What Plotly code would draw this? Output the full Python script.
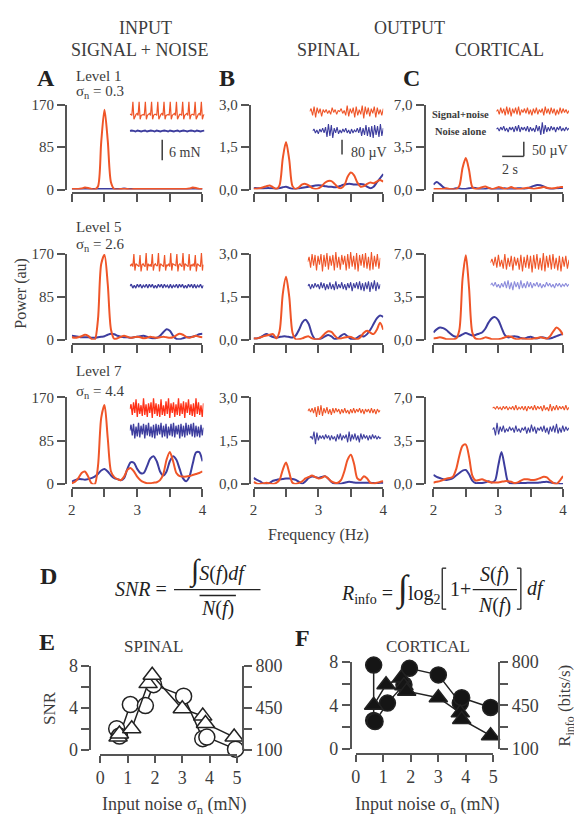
import plotly.graph_objects as go

W, H = 574, 827
FONT = "Liberation Serif, Times New Roman, DejaVu Serif, serif"
TXT = "#3c3c3c"
AXC = "#555555"
RED = "#ef5528"
RED3 = "#ff3218"
BLUE = "#3d3d9e"
BLUE_LT = "#8c8cdc"

# ---------------- power spectra (frequency grid, Hz) ----------------
freq = [2.00, 2.05, 2.10, 2.15, 2.20, 2.25, 2.30, 2.35, 2.40, 2.45, 2.50,
        2.55, 2.60, 2.65, 2.70, 2.75, 2.80, 2.85, 2.90, 2.95, 3.00,
        3.05, 3.10, 3.15, 3.20, 3.25, 3.30, 3.35, 3.40, 3.45, 3.50,
        3.55, 3.60, 3.65, 3.70, 3.75, 3.80, 3.85, 3.90, 3.95, 4.00]

# Level 1
in_l1_sn = [1, 1, 1, 2, 4, 3, 1, 0, 6, 95, 160, 98, 14, 1, 0, 1, 1, 1, 0, 1, 1,
            1, 1, 1, 1, 1, 1, 1, 1, 1, 1, 1, 1, 1, 1, 1, 2, 4, 3, 1, 1]
in_l1_n = [1, 1, 1, 1, 1, 1, 1, 1, 1, 1, 1, 1, 1, 1, 1, 1, 2, 1, 1, 1, 1,
           1, 1, 1, 1, 1, 1, 1, 1, 1, 1, 1, 1, 1, 1, 1, 1, 1, 1, 1, 1]
sp_l1_sn = [0.03, 0.03, 0.05, 0.08, 0.12, 0.14, 0.08, 0.02, 0.15, 1.1, 1.68,
            1.05, 0.12, 0.02, 0.08, 0.18, 0.2, 0.15, 0.06, 0.02, 0.04,
            0.12, 0.24, 0.3, 0.3, 0.2, 0.08, 0.05, 0.15, 0.45, 0.6,
            0.5, 0.25, 0.1, 0.12, 0.2, 0.25, 0.22, 0.28, 0.34, 0.28]
sp_l1_n = [0.05, 0.05, 0.04, 0.04, 0.05, 0.05, 0.04, 0.03, 0.05, 0.08, 0.1,
           0.06, 0.02, 0.02, 0.04, 0.06, 0.08, 0.1, 0.12, 0.14, 0.15,
           0.14, 0.12, 0.1, 0.1, 0.08, 0.1, 0.14, 0.18, 0.2, 0.2,
           0.18, 0.18, 0.2, 0.18, 0.1, 0.05, 0.1, 0.25, 0.4, 0.55]
co_l1_sn = [0.05, 0.05, 0.05, 0.05, 0.1, 0.05, 0.02, 0.02, 0.3, 1.8, 2.6,
            1.6, 0.2, 0.05, 0.1, 0.2, 0.25, 0.15, 0.05, 0.1, 0.2,
            0.15, 0.05, 0.1, 0.2, 0.1, 0.05, 0.05, 0.1, 0.15, 0.1,
            0.05, 0.1, 0.15, 0.2, 0.15, 0.1, 0.1, 0.15, 0.2, 0.2]
co_l1_n = [0.4, 0.62, 0.45, 0.2, 0.05, 0.02, 0.05, 0.1, 0.08, 0.05, 0.05,
           0.1, 0.15, 0.12, 0.05, 0.02, 0.05, 0.1, 0.05, 0.02, 0.02,
           0.05, 0.1, 0.05, 0.02, 0.05, 0.1, 0.1, 0.05, 0.1, 0.2,
           0.3, 0.38, 0.35, 0.25, 0.12, 0.05, 0.05, 0.1, 0.12, 0.15]

# Level 5
in_l5_sn = [5, 4, 5, 7, 10, 8, 2, 0, 40, 150, 168, 110, 20, 2, 3, 6, 8, 6, 4, 5, 6,
            5, 3, 4, 6, 5, 4, 5, 6, 5, 4, 5, 9, 12, 10, 6, 4, 6, 8, 6, 5]
in_l5_n = [8, 7, 6, 5, 5, 5, 4, 4, 5, 6, 7, 10, 12, 11, 8, 6, 5, 5, 4, 5, 6,
           7, 8, 6, 4, 3, 4, 8, 15, 21, 18, 8, 2, 1, 3, 5, 5, 6, 8, 11, 12]
sp_l5_sn = [0.05, 0.05, 0.08, 0.12, 0.15, 0.18, 0.2, 0.05, 0.3, 1.6, 2.2,
            1.5, 0.25, 0.02, 0.02, 0.05, 0.1, 0.12, 0.05, 0.02, 0.02,
            0.1, 0.22, 0.3, 0.28, 0.15, 0.05, 0.05, 0.08, 0.1, 0.1,
            0.05, 0.02, 0.1, 0.25, 0.32, 0.25, 0.2, 0.35, 0.6, 0.35]
sp_l5_n = [0.05, 0.05, 0.08, 0.15, 0.2, 0.15, 0.1, 0.08, 0.1, 0.12, 0.12,
           0.1, 0.08, 0.15, 0.35, 0.6, 0.7, 0.55, 0.2, 0.02, 0.02,
           0.05, 0.12, 0.17, 0.12, 0.03, 0.05, 0.15, 0.2, 0.12, 0.03,
           0.02, 0.08, 0.15, 0.12, 0.2, 0.35, 0.55, 0.75, 0.85, 0.8]
co_l5_sn = [0.1, 0.15, 0.2, 0.15, 0.05, 0.05, 0.05, 0.1, 0.8, 5.0, 6.9,
            4.2, 0.6, 0.1, 0.05, 0.1, 0.2, 0.15, 0.05, 0.05, 0.05,
            0.1, 0.2, 0.3, 0.25, 0.1, 0.05, 0.1, 0.1, 0.05, 0.05,
            0.1, 0.15, 0.2, 0.15, 0.1, 0.3, 0.7, 1.0, 0.8, 0.4]
co_l5_n = [0.6, 0.85, 1.0, 0.95, 0.8, 0.55, 0.35, 0.25, 0.3, 0.45, 0.55,
           0.45, 0.35, 0.4, 0.5, 0.6, 0.9, 1.4, 1.75, 1.85, 1.6,
           1.0, 0.4, 0.2, 0.25, 0.3, 0.25, 0.15, 0.1, 0.2, 0.25,
           0.15, 0.1, 0.2, 0.2, 0.1, 0.1, 0.2, 0.3, 0.4, 0.5]

# Level 7
in_l7_sn = [2, 5, 12, 22, 25, 15, 2, 0, 35, 130, 155, 90, 25, 14, 10, 8, 15, 28, 32, 25, 15,
            8, 4, 2, 2, 3, 4, 8, 20, 48, 63, 45, 22, 16, 15, 15, 16, 18, 20, 22, 25]
in_l7_n = [5, 8, 10, 10, 9, 10, 12, 15, 20, 27, 30, 25, 17, 12, 10, 8, 12, 30, 43, 42, 30,
           22, 22, 35, 50, 55, 45, 25, 17, 25, 45, 55, 48, 30, 12, 6, 15, 40, 62, 63, 45]
sp_l7_sn = [0.08, 0.02, 0.01, 0.03, 0.05, 0.03, 0.01, 0.05, 0.15, 0.5, 0.75,
            0.4, 0.05, 0.01, 0.05, 0.1, 0.2, 0.25, 0.3, 0.25, 0.2,
            0.22, 0.28, 0.2, 0.1, 0.05, 0.05, 0.15, 0.45, 0.85, 1.02,
            0.7, 0.2, 0.15, 0.28, 0.2, 0.05, 0.03, 0.05, 0.08, 0.1]
sp_l7_n = [0.22, 0.15, 0.1, 0.03, 0.01, 0.05, 0.12, 0.15, 0.17, 0.18, 0.2,
           0.2, 0.18, 0.15, 0.08, 0.02, 0.1, 0.22, 0.27, 0.25, 0.22,
           0.25, 0.28, 0.2, 0.08, 0.02, 0.01, 0.02, 0.05, 0.08, 0.08,
           0.06, 0.05, 0.05, 0.05, 0.05, 0.05, 0.04, 0.04, 0.05, 0.05]
co_l7_sn = [0.12, 0.2, 0.25, 0.35, 0.45, 0.5, 0.6, 1.2, 2.3, 3.1, 3.2,
            2.2, 0.7, 0.3, 0.35, 0.4, 0.3, 0.2, 0.15, 0.15, 0.15,
            0.2, 0.25, 0.25, 0.2, 0.1, 0.15, 0.3, 0.4, 0.4, 0.35,
            0.35, 0.4, 0.5, 0.6, 0.55, 0.3, 0.1, 0.02, 0.3, 0.65]
co_l7_n = [0.75, 0.6, 0.5, 0.4, 0.35, 0.4, 0.5, 0.7, 0.9, 1.1, 1.15,
           0.8, 0.3, 0.1, 0.1, 0.1, 0.15, 0.25, 0.15, 0.3, 1.5,
           2.6, 1.4, 0.2, 0.05, 0.05, 0.08, 0.1, 0.1, 0.12, 0.12,
           0.12, 0.12, 0.15, 0.18, 0.2, 0.15, 0.1, 0.05, 0.02, 0.02]

# ---------------- raw trace insets (arbitrary amplitude units) ----------------
tr_in_l1_sn = [0, 0, -1, 13, -5, -1, 0, 1, -1, 13, -5, -1, 0, 0, -1, 13, -5, -1, 0, 1, -1, 13, -5, -1,
               0, 0, -1, 13, -5, -1, 0, 1, -1, 13, -5, -1, 0, 0, -1, 13, -5, -1, 0, 1, -1, 13, -5, -1,
               0, 0, -1, 13, -5, -1, 0, 1, -1, 13, -5, -1, 0, 0, -1, 13, -5, -1, 0, 1, -1, 13, -5, -1, 0]
tr_in_l1_n = [0, 0.5, 0, -0.5, 0.5, 0, -0.5, 0, 0.5, -0.5, 0, 0.5, 0, -0.5, 0.5, 0, -0.5, 0, 0.5, 0,
              -0.5, 0.5, 0, -0.5, 0, 0.5, -0.5, 0, 0.5, 0, -0.5, 0, 0.5, 0, -0.5, 0.5, 0, -0.5, 0, 0.5]
tr_sp_l1_sn = [0, 3, -4, 5, -6, 4, -2, 3, -5, 2, -1, 2, -2, 1, -3, 4, -1, 2, -3, 1, 0, 3, -2, 1, -4,
               6, -5, 3, -2, 4, -6, 5, -4, 2, -3, 6, -7, 5, -3, 4, -5, 3, -2, 5, -6, 4, -3, 2, -4, 3]
tr_sp_l1_n = [0, 2, -2, 1, -3, 2, -1, 3, -2, 4, -6, 7, -5, 6, -7, 3, -2, 4, -3, 1, -2, 2, -1, 3, -2,
              1, -3, 2, -2, 1, -1, 3, -2, 4, -5, 3, -4, 6, -5, 4, -6, 5, -7, 6, -4, 5, -6, 7, -5, 3]
tr_co_l1_sn = [0, 2, -3, 4, -2, 3, -4, 5, -3, 4, -5, 3, -2, 4, -3, 5, -4, 2, -1, 3, -2, 4, -3, 2, -4,
               3, -2, 4, -3, 2, -1, 3, -4, 5, -2, 3, -3, 4, -2, 3, -4, 2, -3, 4, -2, 3, -1, 2, -2, 1]
tr_co_l1_n = [0, 1, -2, 2, -1, 3, -2, 1, -3, 2, -1, 2, -3, 3, -2, 4, -3, 2, -1, 2, -2, 3, -3, 2, -2,
              1, -3, 4, -2, 3, -6, 7, -5, 4, -3, 2, -2, 3, -1, 2, -3, 2, -1, 3, -2, 1, -2, 2, -1, 1]

tr_in_l5_sn = [0, -1, 1, -2, 11, -6, 1, 0, -1, -2, 10, -7, 0, 1, -1, -2, 12, -6, 1, -1, 0, -2, 11, -6,
               0, 1, -1, -1, 12, -7, 1, 0, -1, -2, 10, -6, 0, -1, 1, -2, 12, -6, 1, 0, -1, -1, 11, -7,
               0, 1, -1, -2, 12, -6, 1, 0, -1, -2, 11, -6, 0, -1, 1, -2, 10, -7, 1, 0, -1, -2, 12, -6, 0]
tr_in_l5_n = [0, 2, -2, 1, -2, 2, -1, 2, -2, 1, -1, 2, -2, 2, -1, 2, -2, 1, -2, 2, -1, 2, -2, 2, -1,
              1, -2, 2, -2, 1, -1, 2, -2, 2, -1, 2, -2, 1, -2, 2, -1, 2, -2, 2, -2, 1, -1, 2, -2, 1]
tr_sp_l5_sn = [0, 5, -6, 8, -4, 7, -9, 6, -3, 8, -10, 7, -5, 9, -8, 6, -4, 7, -9, 10, -6, 5, -8, 7, -3,
               6, -9, 8, -7, 10, -5, 6, -8, 9, -10, 7, -4, 8, -6, 9, -7, 5, -9, 10, -8, 6, -5, 8, -7, 4]
tr_sp_l5_n = [0, 2, -3, 2, -2, 3, -1, 2, -3, 4, -2, 3, -4, 2, -3, 4, -3, 2, -4, 5, -3, 2, -2, 4, -3,
              2, -4, 3, -2, 4, -5, 3, -2, 4, -3, 5, -4, 3, -5, 4, -3, 5, -6, 4, -3, 6, -5, 4, -3, 2]
tr_co_l5_sn = [0, 4, -3, 6, -5, 8, -4, 3, -6, 9, -7, 5, -4, 7, -8, 6, -3, 5, -7, 8, -9, 6, -5, 8, -6,
               7, -10, 8, -6, 9, -7, 5, -8, 10, -9, 7, -5, 8, -7, 9, -6, 5, -8, 7, -9, 6, -4, 7, -6, 3]
tr_co_l5_n = [0, 2, -1, 3, -2, 1, -3, 2, -2, 4, -3, 5, -4, 3, -5, 4, -2, 3, -4, 5, -3, 2, -3, 4, -2,
              3, -3, 2, -1, 3, -2, 2, -3, 1, -2, 3, -1, 2, -2, 1, -3, 2, -1, 2, -2, 1, -1, 2, -1, 1]

tr_in_l7_sn = [0, 5, -6, 7, -4, 10, -8, 6, -5, 4, -7, 11, -6, 5, -8, 6, -4, 7, -9, 11, -5, 6, -7, 5, -8,
               10, -6, 4, -7, 8, -5, 11, -9, 6, -4, 7, -8, 5, -6, 11, -7, 6, -5, 8, -9, 7, -4, 10, -6, 5,
               -7, 6, -8, 11, -5, 7, -6, 4, -8, 6]
tr_in_l7_n = [0, 6, -5, 7, -8, 4, -6, 8, -7, 5, -4, 7, -8, 6, -5, 8, -6, 4, -7, 6, -8, 7, -5, 6, -4,
              8, -7, 5, -6, 7, -8, 4, -5, 7, -6, 8, -7, 5, -4, 6, -8, 7, -6, 5, -7, 8, -5, 6, -4, 7,
              -6, 8, -7, 5, -6, 4, -7, 6, -5, 3]
tr_sp_l7_sn = [0, 2, -1, 3, -2, 4, -6, 5, -4, 6, -5, 3, -2, 4, -3, 2, -4, 3, -2, 3, -1, 2, -3, 2, -2,
               3, -2, 1, -3, 2, -2, 3, -2, 2, -1, 3, -2, 2, -3, 2, -1, 2, -2, 3, -2, 2, -3, 2, -1, 1]
tr_sp_l7_n = [0, 1, -2, 6, -7, 5, -3, 2, -1, 2, -2, 3, -1, 2, -3, 2, -2, 1, -4, 3, -2, 4, -3, 2, -1,
              3, -5, 6, -4, 3, -2, 4, -3, 2, -5, 4, -2, 3, -1, 2, -3, 2, -2, 3, -1, 2, -2, 1, -1, 0]
tr_co_l7_sn = [0, 1, -1, 2, -1, 1, -2, 2, -1, 2, -2, 1, -1, 2, -2, 3, -2, 1, -1, 2, -2, 2, -3, 2, -1,
               2, -2, 3, -2, 2, -1, 2, -3, 3, -2, 1, -3, 4, -3, 2, -2, 3, -2, 2, -1, 2, -2, 3, -2, 1]
tr_co_l7_n = [0, 2, -6, 7, -5, 3, -2, 4, -3, 1, -2, 3, -1, 2, -3, 4, -2, 1, -3, 2, -1, 3, -4, 2, -3,
              5, -2, 3, -4, 2, -1, 3, -2, 4, -3, 2, -5, 3, -2, 4, -3, 6, -4, 2, -3, 4, -2, 3, -1, 2]

# ---------------- panels E / F ----------------
noise_sigma_ticks = [0, 1, 2, 3, 4, 5]
e_snr_x = [0.6, 0.7, 1.1, 1.65, 1.95, 3.05, 3.75, 3.9, 4.95]
e_snr_y = [2.0, 1.3, 4.3, 4.2, 6.2, 5.1, 1.05, 1.2, 0.05]
e_rinfo_x = [0.65, 0.7, 1.15, 1.75, 1.9, 3.0, 3.75, 3.85, 4.9]
e_rinfo_y = [205, 231, 275, 651, 721, 441, 380, 319, 205]
f_snr_x = [0.65, 0.65, 0.7, 1.15, 1.75, 1.95, 3.0, 3.8, 3.85, 4.9]
f_snr_y = [7.7, 2.6, 2.5, 4.2, 5.9, 7.4, 6.8, 4.2, 4.7, 3.8]
f_rinfo_x = [0.65, 1.1, 1.65, 1.75, 1.85, 3.0, 3.8, 3.85, 4.9]
f_rinfo_y = [450, 616, 669, 608, 564, 511, 389, 336, 205]


# ======================= helpers =======================
def pxx(x):
    return x / W


def pyy(y):
    return 1 - y / H


layout = dict(width=W, height=H, autosize=False, margin=dict(l=0, r=0, t=0, b=0),
              paper_bgcolor="white", plot_bgcolor="rgba(0,0,0,0)", showlegend=False,
              font=dict(family=FONT, color=TXT))
traces = []
annotations = []
shapes = []
cnt = {"x": 0, "y": 0}


def new_axis(kind, d):
    cnt[kind] += 1
    n = cnt[kind]
    s = "" if n == 1 else str(n)
    layout[kind + "axis" + s] = d
    return kind + s


def txt(x, y, s, size, xanchor="center", yanchor="middle", color=TXT, angle=0):
    annotations.append(dict(x=pxx(x), y=pyy(y), xref="paper", yref="paper", text=s,
                            showarrow=False, xanchor=xanchor, yanchor=yanchor,
                            font=dict(family=FONT, size=size, color=color), textangle=angle))


def seg(x0, y0, x1, y1, w=1.5, color=TXT):
    shapes.append(dict(type="line", xref="paper", yref="paper", x0=pxx(x0), y0=pyy(y0),
                       x1=pxx(x1), y1=pyy(y1), line=dict(color=color, width=w)))


axis_style = dict(showline=True, linecolor=AXC, linewidth=2, ticks="outside", tickwidth=2,
                  tickcolor=AXC, showgrid=False, zeroline=False, fixedrange=True,
                  anchor="free")

# ======================= spectra panels =======================
cols = {"A": dict(x0=68, x1=201, yax=62, ymax=170, tv=[0, 85, 170], tt=["0", "85", "170"]),
        "B": dict(x0=253, x1=385, yax=249, ymax=3.0, tv=[0, 1.5, 3.0], tt=["0,0", "1,5", "3,0"]),
        "C": dict(x0=436, x1=568, yax=427, ymax=7.0, tv=[0, 3.5, 7.0], tt=["0,0", "3,5", "7,0"])}
rows = {1: dict(top=97, zero=184, xax=188),
        5: dict(top=250, zero=338, xax=342),
        7: dict(top=397, zero=486, xax=490)}
spectra = [("A", 1, in_l1_sn, in_l1_n), ("B", 1, sp_l1_sn, sp_l1_n), ("C", 1, co_l1_sn, co_l1_n),
           ("A", 5, in_l5_sn, in_l5_n), ("B", 5, sp_l5_sn, sp_l5_n), ("C", 5, co_l5_sn, co_l5_n),
           ("A", 7, in_l7_sn, in_l7_n), ("B", 7, sp_l7_sn, sp_l7_n), ("C", 7, co_l7_sn, co_l7_n)]

for col, lev, sn, nz in spectra:
    c, r = cols[col], rows[lev]
    xa = dict(axis_style, domain=[pxx(c["x0"]), pxx(c["x1"])], range=[2, 4],
              position=pyy(r["xax"]), ticklen=8,
              tickvals=[2, 2.5, 3, 3.5, 4], ticktext=["2", "", "3", "", "4"],
              showticklabels=(lev == 7), tickfont=dict(family=FONT, size=15, color=TXT))
    ya = dict(axis_style, domain=[pyy(r["zero"]), pyy(r["top"])], range=[0, c["ymax"]],
              position=pxx(c["yax"]), ticklen=8, tickvals=c["tv"], ticktext=c["tt"],
              tickfont=dict(family=FONT, size=15, color=TXT))
    xr = new_axis("x", xa)
    yr = new_axis("y", ya)
    for vals, colr in ((nz, BLUE), (sn, RED)):
        traces.append(go.Scatter(x=freq, y=vals, xaxis=xr, yaxis=yr, mode="lines",
                                 line=dict(color=colr, width=2, shape="spline", smoothing=0.8),
                                 hoverinfo="skip"))

# ======================= raw trace insets =======================
insets = [
    (tr_in_l1_sn, RED, 127, 203, 107, 15, 1.2), (tr_in_l1_n, BLUE, 127, 203, 124, 6, 1.8),
    (tr_sp_l1_sn, RED, 310, 385, 104, 10, 1.1), (tr_sp_l1_n, BLUE, 313, 385, 124, 10, 1.1),
    (tr_co_l1_sn, RED, 500, 574, 104, 10, 1.1), (tr_co_l1_n, BLUE, 500, 574, 122, 10, 1.1),
    (tr_in_l5_sn, RED, 127, 202, 261, 15, 1.2), (tr_in_l5_n, BLUE, 127, 202, 283, 5, 1.3),
    (tr_sp_l5_sn, RED, 308, 382, 258, 12, 1.1), (tr_sp_l5_n, BLUE, 308, 382, 283, 8, 1.1),
    (tr_co_l5_sn, RED, 494, 574, 259, 12, 1.1), (tr_co_l5_n, BLUE_LT, 494, 574, 282, 8, 1.1),
    (tr_in_l7_sn, RED3, 127, 202, 409, 12, 1.3), (tr_in_l7_n, BLUE, 127, 202, 431, 10, 1.3),
    (tr_sp_l7_sn, RED, 308, 382, 411, 8, 1.1), (tr_sp_l7_n, BLUE, 310, 383, 438, 8, 1.1),
    (tr_co_l7_sn, RED, 496, 574, 408, 6, 1.1), (tr_co_l7_n, BLUE, 496, 574, 430, 8, 1.1),
]
for vals, colr, x0, x1, cy, h, lw in insets:
    xa = dict(domain=[pxx(x0), min(1.0, pxx(x1))], range=[0, len(vals) - 1], visible=False,
              fixedrange=True)
    ya = dict(domain=[pyy(cy + h), pyy(cy - h)], range=[-h, h], visible=False, fixedrange=True)
    xr = new_axis("x", xa)
    yr = new_axis("y", ya)
    traces.append(go.Scatter(x=list(range(len(vals))), y=vals, xaxis=xr, yaxis=yr, mode="lines",
                             line=dict(color=colr, width=lw), hoverinfo="skip"))


# ======================= panels E and F =======================
def snr_panel(x0, x1, yl, yr_pos, zero, top, xax, snr_x, snr_y, ri_x, ri_y, filled):
    xa = dict(axis_style, domain=[pxx(x0), pxx(x1)], range=[0, 5], position=pyy(xax), ticklen=7,
              tickvals=noise_sigma_ticks, tickfont=dict(family=FONT, size=18, color=TXT))
    ya = dict(axis_style, domain=[pyy(zero), pyy(top)], range=[0, 8], position=pxx(yl), ticklen=8,
              tickvals=[0, 2, 4, 6, 8], ticktext=["0", "", "4", "", "8"],
              tickfont=dict(family=FONT, size=18, color=TXT))
    xr = new_axis("x", xa)
    yr = new_axis("y", ya)
    ya2 = dict(axis_style, overlaying=yr, side="right", range=[100, 800], position=pxx(yr_pos),
               ticklen=8, tickvals=[100, 275, 450, 625, 800], ticktext=["100", "", "450", "", "800"],
               tickfont=dict(family=FONT, size=18, color=TXT))
    yr2 = new_axis("y", ya2)
    fill = "#151515" if filled else "white"
    traces.append(go.Scatter(x=snr_x, y=snr_y, xaxis=xr, yaxis=yr, mode="lines+markers",
                             cliponaxis=False, line=dict(color="#222", width=1.5),
                             marker=dict(symbol="circle", size=16, color=fill,
                                         line=dict(color="#222", width=1.5)), hoverinfo="skip"))
    traces.append(go.Scatter(x=ri_x, y=ri_y, xaxis=xr, yaxis=yr2, mode="lines+markers",
                             cliponaxis=False, line=dict(color="#222", width=1.5),
                             marker=dict(symbol="triangle-up", size=16, color=fill,
                                         line=dict(color="#222", width=1.5)), hoverinfo="skip"))


snr_panel(97, 236, 87, 242, 758, 672, 763, e_snr_x, e_snr_y, e_rinfo_x, e_rinfo_y, False)
snr_panel(357, 497, 352, 503, 757, 668, 762, f_snr_x, f_snr_y, f_rinfo_x, f_rinfo_y, True)

# ======================= text =======================
txt(143, 18, "INPUT", 18)
txt(137, 41, "SIGNAL + NOISE", 18)
txt(412, 18, "OUTPUT", 18)
txt(329, 41, "SPINAL", 18)
txt(503, 41, "CORTICAL", 18)

txt(42, 70, "<b>A</b>", 24, color="#222")
txt(226, 70, "<b>B</b>", 24, color="#222")
txt(414, 70, "<b>C</b>", 24, color="#222")

txt(70, 68, "Level 1", 15, xanchor="left")
txt(70, 84, "σ<sub>n</sub> = 0.3", 15, xanchor="left")
txt(70, 222, "Level 5", 15, xanchor="left")
txt(70, 241, "σ<sub>n</sub> = 2.6", 15, xanchor="left")
txt(70, 370, "Level 7", 15, xanchor="left")
txt(70, 391, "σ<sub>n</sub> = 4.4", 15, xanchor="left")

txt(16, 290, "Power (au)", 16, angle=-90)
txt(319, 538, "Frequency (Hz)", 16)

# scale bars
seg(160, 133, 160, 154, 1.5)
txt(165, 146, "6 mN", 14, xanchor="left")
seg(343, 133, 343, 148, 1.5)
txt(350, 146, "80 µV", 14, xanchor="left")
seg(528, 135, 528, 150, 1.5)
seg(506, 150, 528, 150, 1.5)
txt(534, 144, "50 µV", 14, xanchor="left")
txt(514, 163, "2 s", 14)
txt(464, 107, "<b>Signal+noise</b>", 10.5)
txt(464, 124, "<b>Noise alone</b>", 10.5)

# D formulas
INT_S = "<span style='font-size:30px'>∫</span>"
INT_R = "<span style='font-size:36px'>∫</span>"
txt(44, 580, "<b>D</b>", 24, color="#222")
txt(110, 593, "<i>SNR</i> =", 20, xanchor="left", color="#222")
txt(216, 575, INT_S + "<i>S</i>(<i>f</i>)<i>df</i>", 20, color="#222")
seg(172, 594, 260, 594, 1.4, "#222")
txt(216, 613, "<i>N</i>(<i>f</i>)", 20, color="#222")
seg(198, 600, 235, 600, 1.3, "#222")

txt(340, 593, "<i>R</i><sub>info</sub> = " + INT_R + "log<sub>2</sub>", 20, xanchor="left",
    color="#222")
seg(449, 572, 445, 572, 1.3, "#222")
seg(445, 572, 445, 614, 1.3, "#222")
seg(445, 614, 449, 614, 1.3, "#222")
txt(451, 593, "1+", 20, xanchor="left", color="#222")
txt(498, 578, "<i>S</i>(<i>f</i>)", 20, color="#222")
seg(476, 594, 521, 594, 1.3, "#222")
txt(498, 610, "<i>N</i>(<i>f</i>)", 20, color="#222")
seg(521, 572, 525, 572, 1.3, "#222")
seg(525, 572, 525, 614, 1.3, "#222")
seg(521, 614, 525, 614, 1.3, "#222")
txt(529, 593, "<i>df</i>", 20, xanchor="left", color="#222")

# E / F labels
txt(43, 648, "<b>E</b>", 24, color="#222")
txt(152, 652, "SPINAL", 17)
txt(45, 715, "SNR", 17, angle=-90)
txt(172, 815, "Input noise σ<sub>n</sub> (mN)", 18)
txt(303, 644, "<b>F</b>", 24, color="#222")
txt(430, 652, "CORTICAL", 17)
txt(430, 815, "Input noise σ<sub>n</sub> (mN)", 18)
txt(571, 713, "R<sub>info</sub> (bits/s)", 17, angle=-90)

layout["annotations"] = annotations
layout["shapes"] = shapes

fig = go.Figure(data=traces)
fig.update_layout(**layout)
fig.write_html("out.html", config={"displayModeBar": False},
               post_script="document.body.style.margin='0';document.body.style.overflow='hidden';")
